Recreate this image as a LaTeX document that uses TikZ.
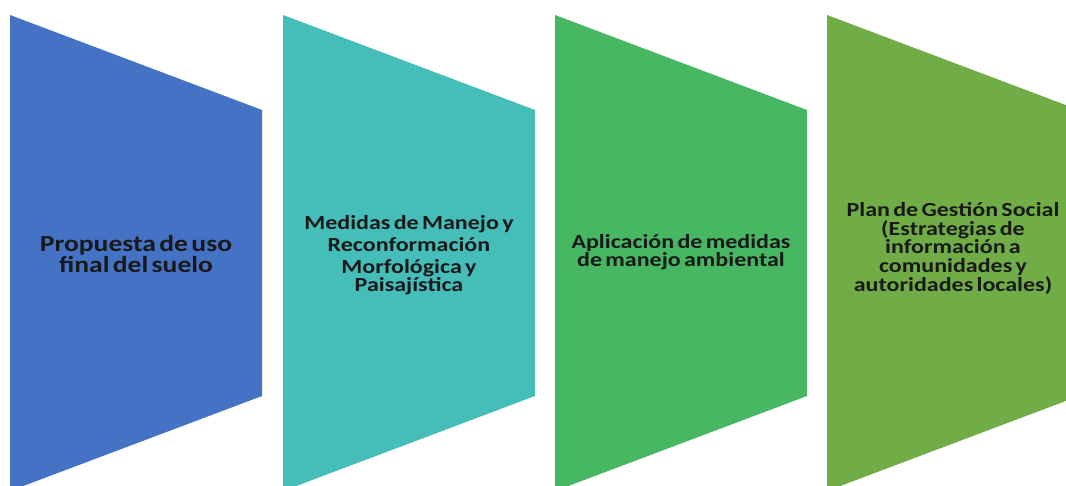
\documentclass[tikz,border=0pt]{standalone}
\usepackage{fontspec}
\usepackage{tikz}
\newfontfamily\etapafont{Carlito}[FakeStretch=1.2]
\definecolor{azul}{HTML}{4472C4}
\definecolor{turquesa}{HTML}{45BDB9}
\definecolor{verde}{HTML}{47B764}
\definecolor{oliva}{HTML}{70AD47}

\begin{document}
\begin{tikzpicture}[x=1pt, y=-1pt,
   etapa/.style={align=center, text width=240pt, inner sep=0pt, text=black!90, font=\etapafont\bfseries}]
   \useasboundingbox (0, 0) rectangle (1066, 485);
   \clip (0, 0) rectangle (1066, 485);

   \fill[azul] (10, 15) -- (262, 110) -- (262, 396) -- (10, 491) -- cycle;
   \fill[turquesa] (283, 15) -- (535, 110) -- (535, 396) -- (283, 491) -- cycle;
   \fill[verde] (555, 15) -- (807, 110) -- (807, 396) -- (555, 491) -- cycle;
   \fill[oliva] (827, 15) -- (1079, 110) -- (1079, 396) -- (827, 491) -- cycle;

   \node[etapa] (P1) at (136, 254) {\fontsize{23}{22}\selectfont Propuesta de uso\\ final del suelo};
   \node[etapa] (P2) at (409, 255.5) {\fontsize{20}{21.8}\selectfont Medidas de Manejo y\\ Reconformación\\ Morfológica y\\ Paisajística};
   \node[etapa] (P3) at (681, 252) {\fontsize{20}{21}\selectfont Aplicación de medidas\\ de manejo ambiental};
   \node[etapa] (P4) at (953, 248.5) {\fontsize{20}{18.8}\selectfont Plan de Gestión Social\\ (Estrategias de\\ información a\\ comunidades y\\ autoridades locales)};
\end{tikzpicture}
\end{document}
